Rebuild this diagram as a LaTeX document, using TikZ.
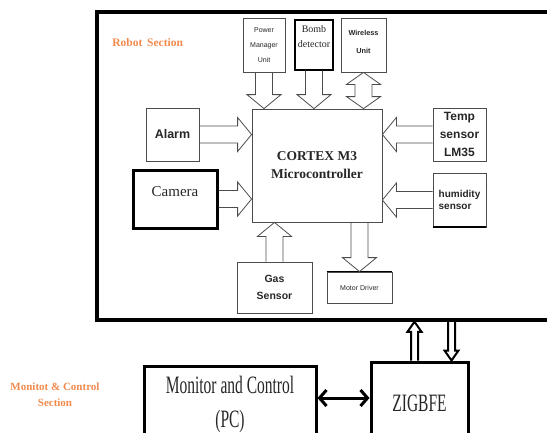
\documentclass[tikz,border=0pt]{standalone}
\usepackage{fontspec}
\setmainfont{Liberation Serif}
\setsansfont{Liberation Sans}
\newfontfamily\narrowserif{Liberation Serif}[FakeStretch=0.62]
\usetikzlibrary{positioning,calc,arrows.meta}

\begin{document}
\begin{tikzpicture}[
    x=1pt,y=-1pt,
    every node/.style={draw=black!70,line width=0.8pt,inner sep=1pt,align=center,text=black!85},
    hollow/.style={draw=black!70,line width=0.8pt,line join=miter}
  ]

  \definecolor{orange1}{HTML}{F28A4E}

  \path[use as bounding box] (0,0) rectangle (547,432);
  \clip (0,0) rectangle (547,432);

  % robot section
  \node[draw=black,line width=3.5pt,minimum width=463,minimum height=308] at (328.5,166) (robot) {};
  \node[draw=none,anchor=west,text=orange1,font=\bfseries\fontsize{11.5}{13}\selectfont] at (111,43) (robot-label) {Robot\, Section};

  \node[minimum width=42,minimum height=54,font=\sffamily\fontsize{7}{15}\selectfont] at (264,45) (pwr) {Power\\Manager\\Unit};
  \node[draw=black,line width=1.4pt,minimum width=38,minimum height=50,text depth=16pt,font=\fontsize{10}{15}\selectfont] at (314,45) (bomb) {Bomb\\detector};
  \node[minimum width=45,minimum height=54,text depth=6pt,font=\sffamily\bfseries\fontsize{7.3}{18}\selectfont] at (363.5,45) (wless) {Wireless\\Unit};

  \node[minimum width=130,minimum height=113,font=\bfseries\fontsize{13.5}{18}\selectfont] at (317,165.5) (cpu) {CORTEX M3\\Microcontroller};

  \node[minimum width=53,minimum height=53,font=\sffamily\bfseries\fontsize{12.5}{15}\selectfont] at (172.5,134.5) (alarm) {Alarm};
  \node[draw=black,line width=3pt,minimum width=84,minimum height=58,text depth=14pt,font=\fontsize{15}{18}\selectfont] at (175,199) (camera) {Camera};

  \node[minimum width=53,minimum height=53,font=\sffamily\bfseries\fontsize{12}{18}\selectfont] at (459.5,134.5) (temp) {Temp\\sensor\\LM35};
  \node[minimum width=53,minimum height=54,align=left,font=\sffamily\bfseries\fontsize{10}{12}\selectfont] at (459.5,200) (humid) {humidity\\sensor};
  \draw[line width=2pt] (humid.south west) -- (humid.south east);

  \node[minimum width=75,minimum height=51,font=\sffamily\bfseries\fontsize{10.5}{17}\selectfont] at (274.5,287.5) (gas) {Gas\\Sensor};
  \node[minimum width=65,minimum height=31,font=\sffamily\fontsize{7}{9}\selectfont] at (359.5,287.5) (motor) {Motor Driver};
  \draw[line width=1.5pt] (motor.north west) -- (motor.north east);

  % arrows into and out of the controller
  \coordinate (pwr-in)    at (pwr.south |- cpu.north);
  \coordinate (bomb-in)   at (bomb.south |- cpu.north);
  \coordinate (wl-in)     at (wless.south |- cpu.north);
  \coordinate (alarm-in)  at (alarm.east -| cpu.west);
  \coordinate (camera-in) at (camera.east -| cpu.west);
  \coordinate (temp-in)   at (temp.west -| cpu.east);
  \coordinate (humid-in)  at (humid.west -| cpu.east);
  \coordinate (gas-in)    at (gas.north |- cpu.south);
  \coordinate (cpu-out)   at (motor.north |- cpu.south);

  \foreach \a/\b in {pwr.south/pwr-in,bomb.south/bomb-in,alarm.east/alarm-in,camera.east/camera-in,
                     temp.west/temp-in,humid.west/humid-in,gas.north/gas-in,cpu-out/motor.north}
  {
    \coordinate (hd) at ($(\b)!14pt!(\a)$);
    \draw[hollow] ($(\a)!8.5pt!90:(\b)$) -- ($(hd)!8.5pt!90:(\b)$) -- ($(hd)!17pt!90:(\b)$) -- (\b)
      -- ($(hd)!17pt!-90:(\b)$) -- ($(hd)!8.5pt!-90:(\b)$) -- ($(\a)!8.5pt!-90:(\b)$);
  }

  \coordinate (hd1) at ($(wl-in)!12pt!(wless.south)$);
  \coordinate (hd2) at ($(wless.south)!12pt!(wl-in)$);
  \draw[hollow] (wless.south) -- ($(hd2)!17pt!90:(wl-in)$) -- ($(hd2)!8.5pt!90:(wl-in)$) -- ($(hd1)!8.5pt!90:(wl-in)$)
    -- ($(hd1)!17pt!90:(wl-in)$) -- (wl-in) -- ($(hd1)!17pt!-90:(wl-in)$) -- ($(hd1)!8.5pt!-90:(wl-in)$)
    -- ($(hd2)!8.5pt!-90:(wl-in)$) -- ($(hd2)!17pt!-90:(wl-in)$) -- cycle;

  % monitor and control section
  \node[draw=none,text=orange1,font=\bfseries\fontsize{11}{16}\selectfont] at (55,395) (mc-label) {Monitot \& Control\\Section};
  \node[draw=black,line width=3pt,minimum width=172,minimum height=79,text depth=8pt,font=\narrowserif\fontsize{25}{34}\selectfont] at (230,405.5) (mon) {Monitor and Control\\(PC)};
  \node[draw=black,line width=3pt,minimum width=97,minimum height=83,font=\narrowserif\fontsize{25}{30}\selectfont] at (419.5,403.5) (zig) {ZIGBFE};

  \coordinate (zu)     at ($(zig.north west)!0.45!(zig.north east)$);
  \coordinate (zd)     at ($(zig.north west)!0.82!(zig.north east)$);
  \coordinate (zu-in)  at (zu |- robot.south);
  \coordinate (zd-out) at (zd |- robot.south);

  \foreach \a/\b in {zu/zu-in,zd-out/zd}
  {
    \coordinate (hd) at ($(\b)!10pt!(\a)$);
    \draw[hollow,draw=black,line width=2pt] ($(\a)!3.5pt!90:(\b)$) -- ($(hd)!3.5pt!90:(\b)$) -- ($(hd)!7pt!90:(\b)$) -- (\b)
      -- ($(hd)!7pt!-90:(\b)$) -- ($(hd)!3.5pt!-90:(\b)$) -- ($(\a)!3.5pt!-90:(\b)$);
  }

  \coordinate (link) at ($(mon.east)+(0,-7.5)$);
  \draw[line width=3pt,{Straight Barb[length=7pt,width=16pt]}-{Straight Barb[length=7pt,width=16pt]}] (link) -- (link -| zig.west);
\end{tikzpicture}
\end{document}
